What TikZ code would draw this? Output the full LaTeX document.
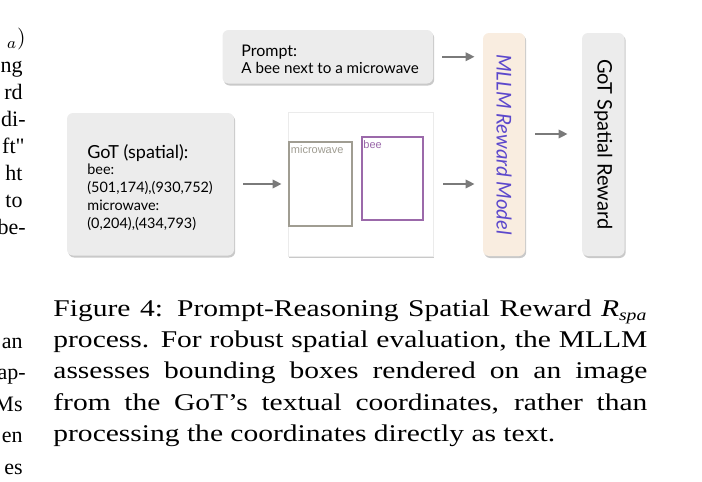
\documentclass[tikz,border=0pt]{standalone}
\usepackage{fontspec}
\usepackage{graphicx}
\usepackage{xcolor}
\setmainfont{Liberation Serif}[FakeStretch=1.23]
\newfontfamily\bodyfont{Liberation Serif}
\newfontfamily\latofont{Lato}
\newfontfamily\helvfont{Liberation Sans}
\usetikzlibrary{arrows.meta,positioning,shadows}
\definecolor{boxgray}{RGB}{236,236,236}
\definecolor{modelfill}{RGB}{249,237,224}
\definecolor{modeltext}{RGB}{92,72,204}
\definecolor{arrowgray}{RGB}{122,122,122}
\definecolor{wavegray}{RGB}{160,157,146}
\definecolor{beepurple}{RGB}{155,105,170}
\tikzset{%
	softshadow/.style = {drop shadow={shadow xshift=0.6pt, shadow yshift=-1pt, opacity=0.3, fill=black!70}},
	greybox/.style    = {rectangle, rounded corners=3pt, fill=boxgray, softshadow, text centered, inner sep=0pt},
	modelbox/.style   = {rectangle, rounded corners=3pt, fill=modelfill, softshadow, text centered, inner sep=0pt},
	canvas/.style     = {rectangle, fill=white, draw=black!8, line width=0.4pt, softshadow, inner sep=0pt},
	boxtext/.style    = {anchor=base west, inner sep=0pt, align=left},
	arrow/.style      = {line width=1.1pt, draw=arrowgray, -{Triangle[length=4.5pt,width=4.2pt]}},
	colfrag/.style    = {anchor=base east, inner sep=0pt, font=\bodyfont\fontsize{11}{13.5}\selectfont},
}
\begin{document}
\begin{tikzpicture}[x=0.5pt, y=-0.5pt]
		\useasboundingbox (0,0) rectangle (702,482);
		% diagram
		\node[greybox, minimum width=105.25pt, minimum height=26.75pt] (prompt) at (327.75,56.75) {};
		\node[boxtext, font=\latofont\fontsize{7.6}{8.3}\selectfont] (prompttext) at (241,73.3)
			{{\fontsize{8}{8.3}\selectfont Prompt:}\\ A bee next to a microwave};
		\node[greybox, minimum width=83.5pt, minimum height=71.25pt] (got) at (150.5,184.25) {};
		\node[boxtext, font=\latofont\fontsize{7.2}{9}\selectfont] (gottext) at (87,228)
			{{\fontsize{9}{9}\selectfont GoT (spatial):}\\[-1pt] bee:\\ (501,174),(930,752)\\ microwave:\\ (0,204),(434,793)};
		\node[canvas, minimum width=72.5pt, minimum height=72pt] (img) at (360.5,184) {};
		\draw[wavegray, line width=0.8pt] (289,142) rectangle (352,226);
		\draw[beepurple, line width=0.8pt] (362,137) rectangle (423,220);
		\node[anchor=base west, inner sep=0pt, text=wavegray, font=\helvfont\fontsize{5.5}{6}\selectfont] (wavelabel) at (290.5,153) {microwave};
		\node[anchor=base west, inner sep=0pt, text=beepurple, font=\helvfont\fontsize{5.5}{6}\selectfont] (beelabel) at (363,148) {bee};
		\node[modelbox, minimum width=21pt, minimum height=111.5pt] (mllm) at (504,144.5)
			{\rotatebox{-90}{\latofont\itshape\fontsize{10.2}{10}\selectfont\color{modeltext} MLLM Reward Model}};
		\node[greybox, minimum width=21.25pt, minimum height=111.5pt] (reward) at (603.25,144.5)
			{\rotatebox{-90}{\latofont\fontsize{10}{10}\selectfont GoT Spatial Reward}};
		
		\draw[arrow, shorten <=4.5pt, shorten >=4pt] (prompt.east) -- (prompt.east -| mllm.west);
		\draw[arrow, shorten <=4.5pt, shorten >=3pt] (got.east |- img.west) -- (img.west);
		\draw[arrow, shorten <=5pt, shorten >=4pt] (img.east) -- (img.east -| mllm.west);
		\draw[arrow, shorten <=5pt, shorten >=7pt] ([yshift=5.25pt]mllm.east) -- ([yshift=5.25pt]reward.west);
		
		% caption
		\node[anchor=base west, inner sep=0pt, text width=297pt, align=justify, font=\fontsize{12}{15.6}\selectfont] (caption) at (53,316.5)
			{Figure 4: Prompt-Reasoning Spatial Reward \textit{R}\textsubscript{\textit{spa}}\linebreak
			 process. For robust spatial evaluation, the MLLM\linebreak
			 assesses bounding boxes rendered on an image\linebreak
			 from the GoT's textual coordinates, rather than\linebreak
			 processing the coordinates directly as text.};
		
		% left column
		\node[colfrag] (l1) at (26,45) {$_a)$};
		\node[colfrag] (l2) at (23,72) {ng};
		\node[colfrag] (l3) at (23,99) {rd};
		\node[colfrag] (l4) at (26,126) {di-};
		\node[colfrag] (l5) at (25,153) {ft"};
		\node[colfrag] (l6) at (23,180) {ht};
		\node[colfrag] (l7) at (23,207) {to};
		\node[colfrag] (l8) at (26,234) {be-};
		\node[colfrag] (l9) at (23,348) {an};
		\node[colfrag] (l10) at (26,379.5) {ap-};
		\node[colfrag] (l11) at (23,411) {Ms};
		\node[colfrag] (l12) at (23,442.5) {en};
		\node[colfrag] (l13) at (23,474) {es};
		\end{tikzpicture}
\end{document}
